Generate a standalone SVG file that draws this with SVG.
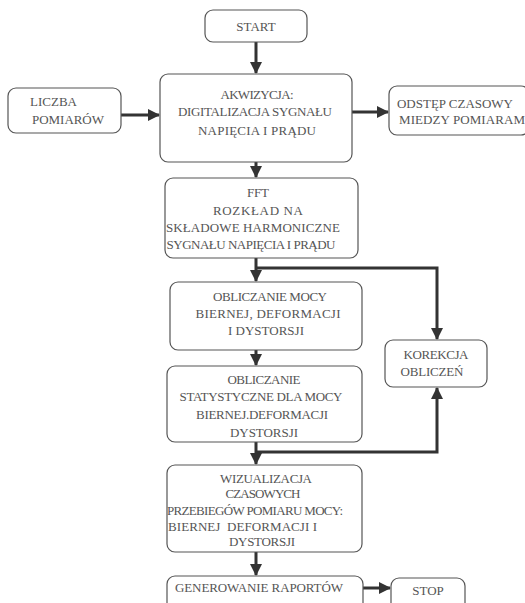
<svg xmlns="http://www.w3.org/2000/svg" width="525" height="603" viewBox="0 0 525 603">
<style>
.box{fill:#fff;stroke:#555;stroke-width:1.2}
text{font-family:'Liberation Serif','DejaVu Serif',serif;font-size:13px;fill:#555;text-anchor:middle}
.l{text-anchor:start}
.c{fill:none;stroke:#333;stroke-width:3}
</style>
<defs>
<marker id="ah" markerUnits="userSpaceOnUse" markerWidth="12" markerHeight="12" viewBox="0 0 12 12" refX="11" refY="6" orient="auto">
<path d="M0,0 L12,6 L0,12 z" fill="#333"/>
</marker>
</defs>
<rect width="525" height="603" fill="#fff"/>
<g id="connectors">
<path class="c" d="M256,42 V73" marker-end="url(#ah)"/>
<path class="c" d="M121,115 H159" marker-end="url(#ah)"/>
<path class="c" d="M352,112 H388" marker-end="url(#ah)"/>
<path class="c" d="M256,162 V177" marker-end="url(#ah)"/>
<path class="c" d="M256,258 V281" marker-end="url(#ah)"/>
<path class="c" d="M256,268 H437 V339" marker-end="url(#ah)"/>
<path class="c" d="M256,350 V365" marker-end="url(#ah)"/>
<path class="c" d="M256,442 V464" marker-end="url(#ah)"/>
<path class="c" d="M256,452 H437 V388" marker-end="url(#ah)"/>
<path class="c" d="M256,552 V575" marker-end="url(#ah)"/>
<path class="c" d="M363,588 H390" marker-end="url(#ah)"/>
</g>
<g id="start">
<rect class="box" x="205" y="10" width="102" height="32" rx="8"/>
<text x="256" y="31" font-size="15">START</text>
</g>
<g id="liczba">
<rect class="box" x="8" y="88" width="113" height="45" rx="8"/>
<text class="l" x="30" y="106" textLength="47">LICZBA</text>
<text class="l" x="32" y="124" textLength="72">POMIARÓW</text>
</g>
<g id="akwizycja">
<rect class="box" x="160" y="74" width="192" height="88" rx="8"/>
<text x="257" y="99" textLength="73">AKWIZYCJA:</text>
<text x="255" y="116" textLength="154">DIGITALIZACJA SYGNAŁU</text>
<text x="257" y="135" textLength="118">NAPIĘCIA I PRĄDU</text>
</g>
<g id="odstep">
<rect class="box" x="389" y="86" width="140" height="49" rx="8"/>
<text x="455" y="108" textLength="116">ODSTĘP CZASOWY</text>
<text class="l" x="399" y="124" textLength="126">MIEDZY POMIARAM</text>
</g>
<g id="fft">
<rect class="box" x="165" y="178" width="193" height="80" rx="8"/>
<text x="258" y="197" textLength="22">FFT</text>
<text x="258" y="215" textLength="90">ROZKŁAD NA</text>
<text x="253" y="232" textLength="174">SKŁADOWE HARMONICZNE</text>
<text x="251" y="249" textLength="169">SYGNAŁU NAPIĘCIA I PRĄDU</text>
</g>
<g id="obliczanie">
<rect class="box" x="170" y="282" width="192" height="68" rx="8"/>
<text x="270" y="301" textLength="114">OBLICZANIE MOCY</text>
<text x="268" y="318" textLength="145">BIERNEJ, DEFORMACJI</text>
<text x="266" y="335" textLength="76">I DYSTORSJI</text>
</g>
<g id="statystyczne">
<rect class="box" x="167" y="366" width="195" height="76" rx="8"/>
<text x="264" y="384" textLength="73">OBLICZANIE</text>
<text x="261" y="401" textLength="163">STATYSTYCZNE DLA MOCY</text>
<text x="262" y="419" textLength="132">BIERNEJ.DEFORMACJI</text>
<text x="264" y="437" textLength="68">DYSTORSJI</text>
</g>
<g id="korekcja">
<rect class="box" x="385" y="340" width="102" height="47" rx="8"/>
<text x="436" y="359" textLength="65">KOREKCJA</text>
<text x="432" y="376" textLength="63">OBLICZEŃ</text>
</g>
<g id="wizualizacja">
<rect class="box" x="167" y="465" width="195" height="87" rx="8"/>
<text x="266" y="483" textLength="92">WIZUALIZACJA</text>
<text x="263" y="498" textLength="75">CZASOWYCH</text>
<text x="255" y="515" textLength="176">PRZEBIEGÓW POMIARU MOCY:</text>
<text class="l" x="168" y="531" textLength="149" xml:space="preserve">BIERNEJ  DEFORMACJI I</text>
<text x="262" y="546" textLength="66">DYSTORSJI</text>
</g>
<g id="generowanie">
<rect class="box" x="167" y="576" width="196" height="40" rx="8"/>
<text class="l" x="175" y="592" textLength="168">GENEROWANIE RAPORTÓW</text>
</g>
<g id="stop">
<rect class="box" x="391" y="578" width="74" height="40" rx="8"/>
<text x="428" y="595" font-size="14">STOP</text>
</g>
</svg>
